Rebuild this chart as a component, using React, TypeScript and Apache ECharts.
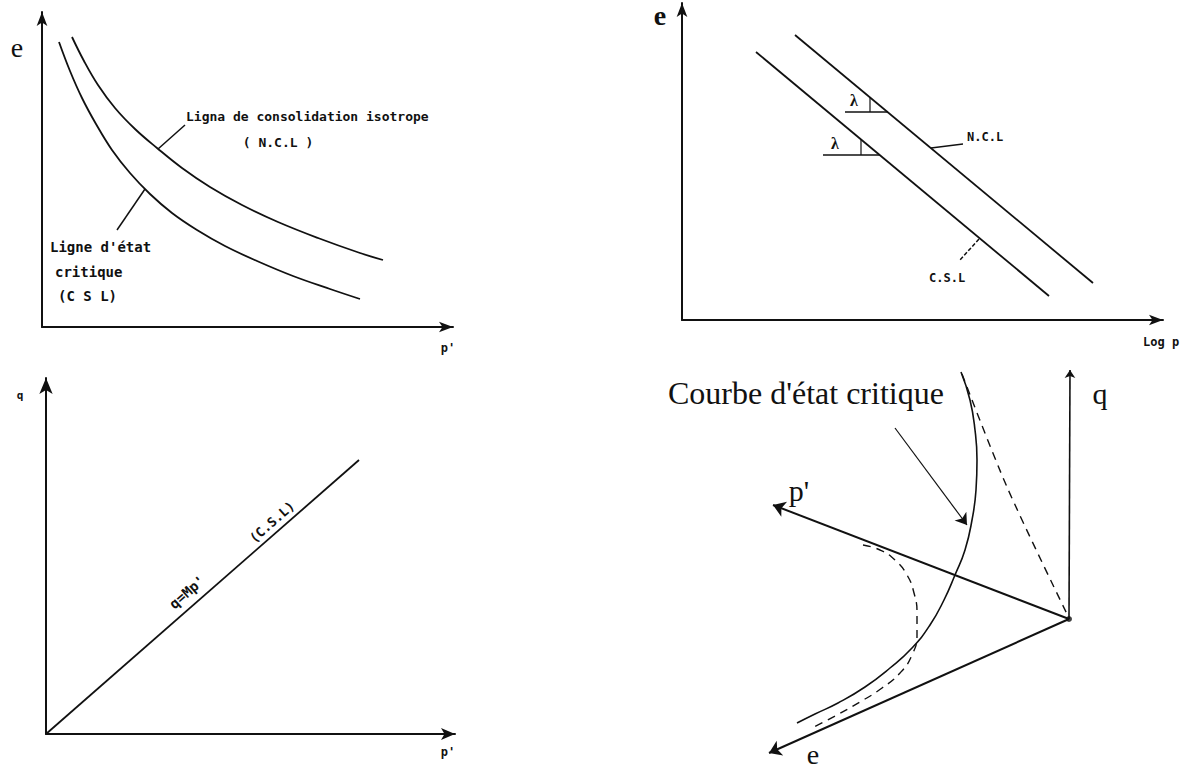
import React, { useEffect, useRef } from "react";
import * as echarts from "echarts";

type Pt = [number, number];

// ---- Panel 1: void ratio e against mean effective stress p' ----
const nclCurve: Pt[] = [
  [3.0, 29.0], [4.2, 26.6], [5.6, 24.2], [7.3, 21.9], [9.3, 19.8],
  [11.5, 17.9], [14.0, 15.9], [16.8, 14.0], [20.0, 12.2], [23.6, 10.5],
  [27.6, 8.9], [31.8, 7.4], [34.1, 6.7],
];
const cslCurve: Pt[] = [
  [1.7, 28.5], [2.8, 25.6], [4.0, 22.9], [5.4, 20.3], [7.0, 17.7],
  [8.8, 15.4], [10.8, 13.3], [13.0, 11.4], [15.5, 9.7], [18.3, 8.1],
  [21.5, 6.6], [25.1, 5.1], [28.8, 3.8], [31.8, 2.8],
];
const nclPointer1: Pt[] = [[11.6, 17.8], [14.3, 20.2]];
const cslPointer1: Pt[] = [[10.3, 13.8], [7.5, 9.7]];

// ---- Panel 2: e against log p ----
const nclLog: Pt[] = [[11.3, 28.5], [41.1, 3.7]];
const cslLog: Pt[] = [[7.4, 26.8], [36.7, 2.4]];
const lambdaUpper: Pt[] = [[16.3, 20.8], [20.6, 20.8]];
const lambdaUpperLeg: Pt[] = [[18.8, 20.8], [18.8, 22.3]];
const lambdaLower: Pt[] = [[14.1, 16.5], [19.8, 16.5]];
const lambdaLowerLeg: Pt[] = [[17.9, 16.5], [17.9, 18.0]];
const nclPointer2: Pt[] = [[24.9, 17.2], [28.1, 17.6]];
const cslPointer2: Pt[] = [[29.7, 8.1], [27.8, 6.0]];

// ---- Panel 3: q against p' ----
const cslStress: Pt[] = [[0, 0], [31.3, 27.4]];

// ---- Panel 4: critical state curve in p'–q–e space ----
const origin3d: Pt = [32.9, 14.1];
const qTip: Pt = [33.0, 39.0];
const pTip: Pt = [3.3, 25.5];
const eTip: Pt = [2.9, 0.7];
const criticalCurve: Pt[] = [
  [22.1, 38.8], [23.0, 36.0], [23.5, 33.0], [23.7, 30.0], [23.6, 27.0],
  [23.2, 24.0], [22.5, 21.0], [21.5, 18.5], [20.4, 16.0], [19.0, 13.5],
  [17.2, 11.2], [15.0, 9.2], [12.5, 7.3], [9.8, 5.7], [7.5, 4.6], [5.7, 3.7],
];
const projectionQ: Pt[] = [[22.2, 38.6], [26.7, 27.3], [32.8, 14.4]];
const projectionE: Pt[] = [
  [12.3, 21.5], [14.0, 21.0], [15.5, 20.0], [16.7, 18.5], [17.4, 16.7],
  [17.7, 14.7], [17.7, 12.5], [17.2, 10.5], [16.0, 8.7], [14.2, 7.2],
  [12.0, 5.8], [9.5, 4.4], [7.2, 3.2],
];
const curvePointer: Pt[] = [[15.5, 33.2], [22.7, 23.5]];

const INK = "#111";
const MONO = "'DejaVu Sans Mono', monospace";
const SERIF = "'Liberation Serif', 'DejaVu Serif', serif";

const arrowAxis = (gridIndex: number, max: number, size: number[]) => ({
  type: "value",
  gridIndex,
  min: 0,
  max,
  axisLine: {
    show: true,
    onZero: false,
    symbol: ["none", "arrow"],
    symbolSize: size,
    lineStyle: { color: INK, width: 2 },
  },
  axisTick: { show: false },
  axisLabel: { show: false },
  splitLine: { show: false },
});

const hiddenAxis = (gridIndex: number, max: number) => ({
  type: "value",
  gridIndex,
  min: 0,
  max,
  show: false,
  splitLine: { show: false },
});

const curve = (grid: number, data: Pt[], opts: any = {}) => ({
  type: "line",
  xAxisIndex: grid,
  yAxisIndex: grid,
  data,
  showSymbol: false,
  smooth: opts.smooth ?? false,
  silent: true,
  lineStyle: {
    color: INK,
    width: opts.width ?? 1.8,
    type: opts.dash ?? "solid",
  },
  z: 3,
});

const arrowLine = (grid: number, from: Pt, to: Pt, size: number, width = 2) => ({
  type: "lines",
  coordinateSystem: "cartesian2d",
  xAxisIndex: grid,
  yAxisIndex: grid,
  symbol: ["none", "arrow"],
  symbolSize: size,
  silent: true,
  lineStyle: { color: INK, width, opacity: 1 },
  data: [{ coords: [from, to] }],
  z: 4,
});

const txt = (
  text: string,
  x: number,
  y: number,
  font: string,
  size: number,
  weight: string,
  align = "left",
  rotation = 0
) => ({
  type: "text",
  x,
  y,
  rotation,
  style: {
    text,
    fill: INK,
    fontFamily: font,
    fontSize: size,
    fontWeight: weight,
    textAlign: align,
    textVerticalAlign: "middle",
  },
  z: 10,
});

const option: any = {
  animation: false,
  backgroundColor: "#fff",
  grid: [
    { left: 42, top: 12, width: 411, height: 315 },
    { left: 682, top: 3, width: 481, height: 317 },
    { left: 46, top: 378, width: 409, height: 356 },
    { left: 740, top: 340, width: 420, height: 420 },
  ],
  xAxis: [
    arrowAxis(0, 41.1, [8, 14]),
    arrowAxis(1, 48.1, [8, 14]),
    arrowAxis(2, 40.9, [9, 14]),
    hiddenAxis(3, 42),
  ],
  yAxis: [
    arrowAxis(0, 31.5, [8, 14]),
    arrowAxis(1, 31.7, [8, 14]),
    arrowAxis(2, 35.6, [10, 16]),
    hiddenAxis(3, 42),
  ],
  series: [
    // panel 1
    curve(0, nclCurve, { smooth: 0.4 }),
    curve(0, cslCurve, { smooth: 0.4 }),
    curve(0, nclPointer1, { width: 1.5 }),
    curve(0, cslPointer1, { width: 1.5 }),
    // panel 2
    curve(1, nclLog),
    curve(1, cslLog),
    curve(1, lambdaUpper, { width: 1.6 }),
    curve(1, lambdaUpperLeg, { width: 1.2 }),
    curve(1, lambdaLower, { width: 1.6 }),
    curve(1, lambdaLowerLeg, { width: 1.2 }),
    curve(1, nclPointer2, { width: 1.5 }),
    curve(1, cslPointer2, { width: 1.5, dash: [4, 2] }),
    // panel 3
    curve(2, cslStress, { width: 1.8 }),
    // panel 4
    arrowLine(3, origin3d, qTip, 8, 1.6),
    arrowLine(3, origin3d, pTip, 12, 2),
    arrowLine(3, origin3d, eTip, 12, 2),
    arrowLine(3, curvePointer[0], curvePointer[1], 11, 1.2),
    curve(3, criticalCurve, { smooth: 0.5, width: 1.6 }),
    curve(3, projectionQ, { smooth: 0.3, width: 1.4, dash: [8, 6] }),
    curve(3, projectionE, { smooth: 0.5, width: 1.4, dash: [8, 6] }),
    {
      type: "scatter",
      xAxisIndex: 3,
      yAxisIndex: 3,
      data: [origin3d],
      symbolSize: 6,
      itemStyle: { color: INK },
      silent: true,
      z: 5,
    },
  ],
  graphic: [
    // panel 1
    txt("e", 17, 47, SERIF, 28, "normal", "center"),
    txt("Ligna de consolidation isotrope", 186, 116, MONO, 13, "bold"),
    txt("( N.C.L )", 278, 142, MONO, 13, "bold", "center"),
    txt("Ligne d'état", 50, 247, MONO, 14, "bold"),
    txt("critique", 55, 272, MONO, 14, "bold"),
    txt("(C S L)", 58, 296, MONO, 14, "bold"),
    txt("p'", 448, 348, MONO, 12, "bold", "center"),
    // panel 2
    txt("e", 660, 15, SERIF, 28, "bold", "center"),
    txt("λ", 854, 100, SERIF, 16, "bold", "center"),
    txt("λ", 835, 143, SERIF, 16, "bold", "center"),
    txt("N.C.L", 967, 137, MONO, 12, "bold"),
    txt("C.S.L", 929, 278, MONO, 12, "bold"),
    txt("Log p", 1143, 342, MONO, 12, "bold"),
    // panel 3
    txt("q", 20, 395, MONO, 11, "bold", "center"),
    txt("q=Mp'", 187, 592, MONO, 14, "bold", "center", 0.719),
    txt("(C.S.L)", 272, 522, MONO, 13, "bold", "center", 0.719),
    txt("p'", 448, 752, MONO, 12, "bold", "center"),
    // panel 4
    txt("Courbe d'état critique", 668, 393, SERIF, 32, "normal"),
    txt("q", 1100, 393, SERIF, 30, "normal", "center"),
    txt("p'", 799, 490, SERIF, 30, "normal", "center"),
    txt("e", 813, 754, SERIF, 28, "normal", "center"),
  ],
};

export default function App() {
  const ref = useRef<HTMLDivElement>(null);
  useEffect(() => {
    if (!ref.current) return;
    const chart = echarts.init(ref.current, null, { renderer: "svg" });
    chart.setOption(option);
    return () => chart.dispose();
  }, []);
  return (
    <div
      ref={ref}
      style={{
        position: "fixed",
        left: 0,
        top: 0,
        width: 1197,
        height: 771,
        background: "#fff",
      }}
    />
  );
}
